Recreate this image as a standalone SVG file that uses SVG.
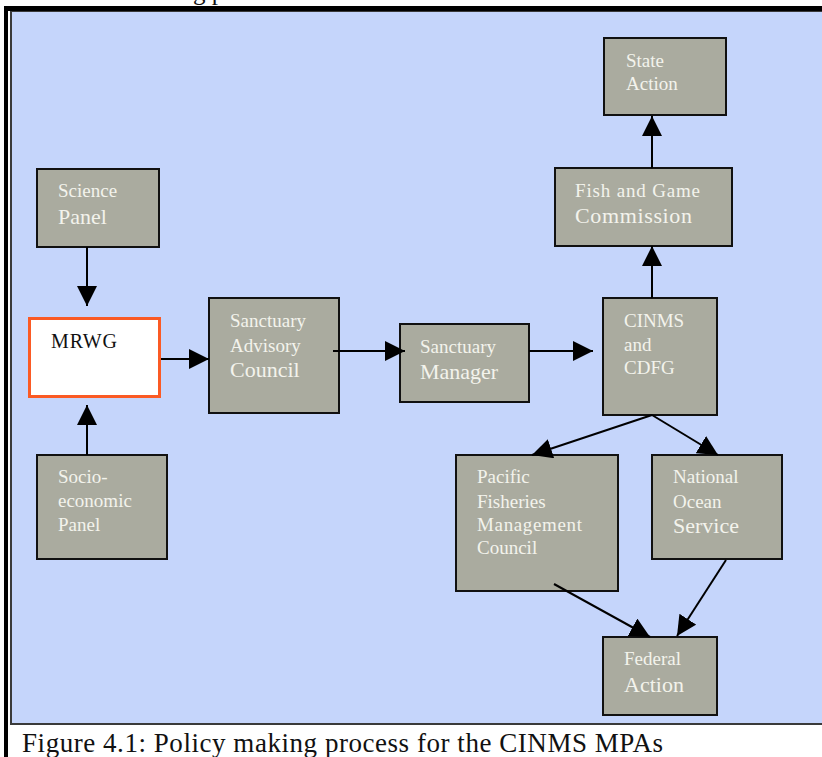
<svg xmlns="http://www.w3.org/2000/svg" width="822" height="757" viewBox="0 0 822 757" font-family="'Liberation Serif', 'Times New Roman', 'DejaVu Serif', serif">
<style>
.box{fill:#aaab9f;stroke:#111;stroke-width:2}
.t{font-family:'Liberation Serif','Times New Roman','DejaVu Serif',serif;fill:#f3f3ec;font-size:19px}
.tl{font-size:22px}
.cap{font-family:'Liberation Serif','Times New Roman','DejaVu Serif',serif;fill:#111}
.c{stroke:#000;stroke-width:2;fill:none;marker-end:url(#ah)}
</style>
<defs>
<marker id="ah" viewBox="0 0 20 20" refX="20" refY="10" markerWidth="20" markerHeight="20" markerUnits="userSpaceOnUse" orient="auto">
<path d="M0,0 L20,10 L0,20 z" fill="#000"/>
</marker>
</defs>
<rect x="0" y="0" width="822" height="757" fill="#fff"/>
<text class="cap" x="193" y="0" font-size="25">g p</text>
<rect x="11" y="11" width="820" height="713" fill="#c5d5fb" stroke="#3a3a3a" stroke-width="2"/>
<rect x="4" y="6" width="818" height="5" fill="#000"/>
<rect x="4" y="6" width="4" height="751" fill="#000"/>

<g id="state-action">
<rect class="box" x="604" y="38" width="122" height="77"/>
<text class="t" x="626" y="67">State</text>
<text class="t" x="626" y="90">Action</text>
</g>
<g id="fish-game">
<rect class="box" x="555" y="168" width="177" height="78"/>
<text class="t" x="575" y="197" textLength="125">Fish and Game</text>
<text class="t tl" x="575" y="223" textLength="117">Commission</text>
</g>
<g id="science-panel">
<rect class="box" x="37" y="169" width="122" height="78"/>
<text class="t" x="58" y="197">Science</text>
<text class="t tl" x="58" y="224">Panel</text>
</g>
<g id="mrwg">
<rect x="29.5" y="318.5" width="130" height="78" fill="#fff" stroke="#fb5a24" stroke-width="3"/>
<text class="cap" x="51" y="348" font-size="20" textLength="66">MRWG</text>
</g>
<g id="socio-panel">
<rect class="box" x="37" y="455" width="130" height="104"/>
<text class="t" x="58" y="483">Socio-</text>
<text class="t" x="58" y="507">economic</text>
<text class="t" x="58" y="531">Panel</text>
</g>
<g id="sac">
<rect class="box" x="209" y="298" width="130" height="115"/>
<text class="t" x="230" y="327">Sanctuary</text>
<text class="t" x="230" y="352">Advisory</text>
<text class="t tl" x="230" y="377">Council</text>
</g>
<g id="sanctuary-manager">
<rect class="box" x="400" y="324" width="129" height="78"/>
<text class="t" x="420" y="353">Sanctuary</text>
<text class="t tl" x="420" y="379">Manager</text>
</g>
<g id="cinms-cdfg">
<rect class="box" x="603" y="298" width="114" height="117"/>
<text class="t" x="624" y="327">CINMS</text>
<text class="t" x="624" y="351">and</text>
<text class="t" x="624" y="374">CDFG</text>
</g>
<g id="pfmc">
<rect class="box" x="456" y="455" width="162" height="136"/>
<text class="t" x="477" y="483">Pacific</text>
<text class="t" x="477" y="508">Fisheries</text>
<text class="t" x="477" y="531" textLength="105">Management</text>
<text class="t" x="477" y="554">Council</text>
</g>
<g id="nos">
<rect class="box" x="652" y="455" width="130" height="104"/>
<text class="t" x="673" y="483">National</text>
<text class="t" x="673" y="508">Ocean</text>
<text class="t tl" x="673" y="533">Service</text>
</g>
<g id="federal-action">
<rect class="box" x="603" y="637" width="114" height="78"/>
<text class="t" x="624" y="665">Federal</text>
<text class="t tl" x="624" y="692">Action</text>
</g>

<g id="connectors">
<line class="c" x1="87" y1="247" x2="87" y2="306"/>
<line class="c" x1="87" y1="455" x2="87" y2="405"/>
<line class="c" x1="161" y1="359" x2="209" y2="359"/>
<line class="c" x1="333" y1="351" x2="405" y2="351"/>
<line class="c" x1="529" y1="351" x2="593" y2="351"/>
<line class="c" x1="652" y1="298" x2="652" y2="246"/>
<line class="c" x1="652" y1="168" x2="652" y2="116"/>
<line class="c" x1="652" y1="415" x2="532" y2="455"/>
<line class="c" x1="652" y1="415" x2="718" y2="455"/>
<line class="c" x1="554" y1="584" x2="650" y2="637"/>
<line class="c" x1="726" y1="560" x2="677" y2="636"/>
</g>

<text class="cap" x="22" y="752" font-size="27" textLength="641">Figure 4.1: Policy making process for the CINMS MPAs</text>
</svg>
